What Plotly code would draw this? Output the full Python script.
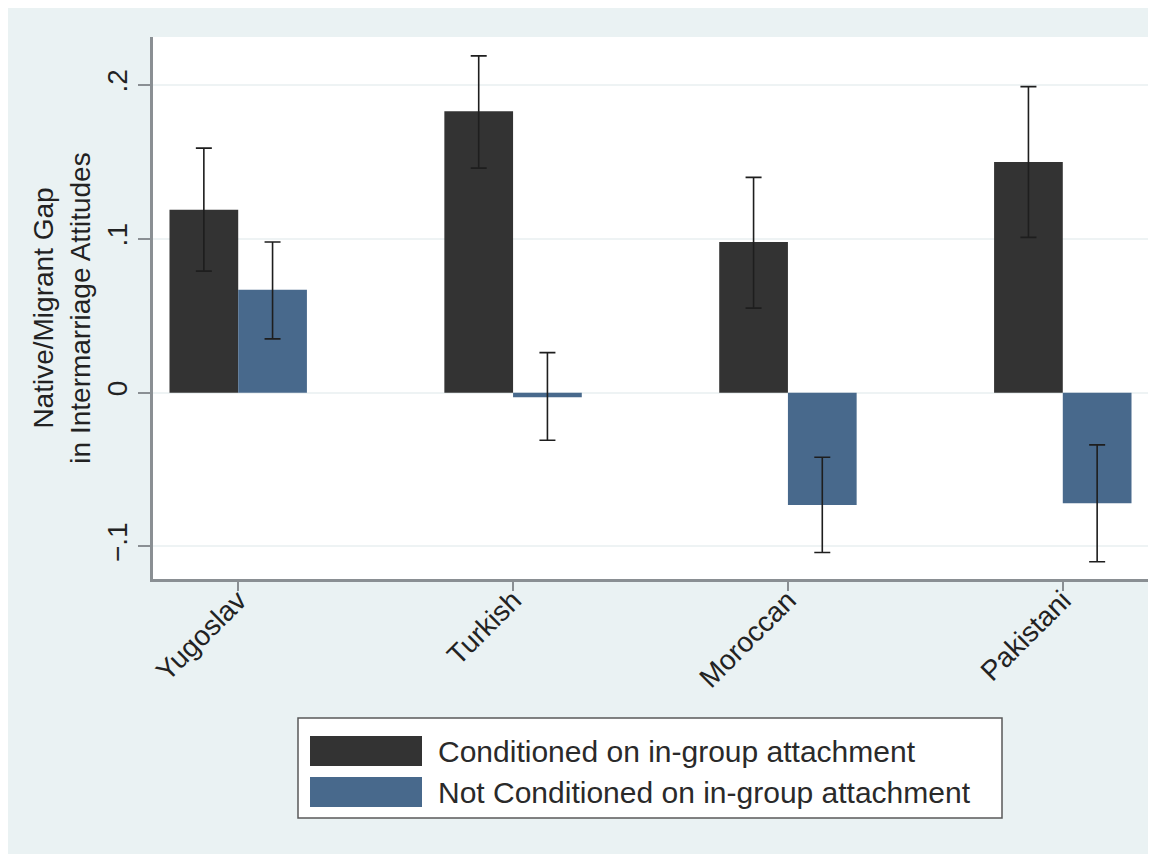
import plotly.graph_objects as go

# ---------------- data ----------------
categories = ["Yugoslav", "Turkish", "Moroccan", "Pakistani"]
series_names = ["Conditioned on in-group attachment",
                "Not Conditioned on in-group attachment"]

cond_value = [0.119, 0.183, 0.098, 0.150]
cond_lower = [0.079, 0.146, 0.055, 0.101]
cond_upper = [0.159, 0.219, 0.140, 0.199]

notcond_value = [0.067, -0.003, -0.073, -0.072]
notcond_lower = [0.035, -0.031, -0.104, -0.110]
notcond_upper = [0.098, 0.026, -0.042, -0.034]

ytick_vals = [-0.1, 0, 0.1, 0.2]
ytick_text = ["\u2212.1", "0", ".1", ".2"]
y_title = "Native/Migrant Gap<br>in Intermarriage Attitudes"

# ---------------- style ----------------
# the page adds an 8px body margin, so figure pixels = screen pixels - 8
W, H = 1148, 846
PL, PR, PT, PB = 145, 1140, 29, 571   # plot area in figure pixels
BG = "#eaf2f3"
DARK = "#333333"
BLUE = "#48698c"
AXIS = "#8a8f93"
FONT = "Liberation Sans, Arial, Helvetica, sans-serif"


def px_x(p):
    return (p - PL) / (PR - PL)


def px_y(p):
    return (PB - p) / (PB - PT)


def err(vals, lo, hi):
    return dict(type="data", symmetric=False,
                array=[h - v for v, h in zip(vals, hi)],
                arrayminus=[v - l for v, l in zip(vals, lo)],
                color="#1e1e1e", thickness=1.6, width=8)


fig = go.Figure()
fig.add_trace(go.Bar(x=categories, y=cond_value, name=series_names[0],
                     marker=dict(color=DARK, line=dict(width=0)),
                     error_y=err(cond_value, cond_lower, cond_upper),
                     showlegend=False))
fig.add_trace(go.Bar(x=categories, y=notcond_value, name=series_names[1],
                     marker=dict(color=BLUE, line=dict(width=0)),
                     error_y=err(notcond_value, notcond_lower, notcond_upper),
                     showlegend=False))

shapes = []
# custom legend (wide Stata-style swatches)
shapes.append(dict(type="rect", xref="paper", yref="paper",
                   x0=px_x(290), x1=px_x(994), y0=px_y(810), y1=px_y(710),
                   fillcolor="white", line=dict(color="#5a5a5a", width=1.5)))
swatch_rows = [(728, 758), (769, 799)]
swatch_cols = [DARK, BLUE]
for (t, b), c in zip(swatch_rows, swatch_cols):
    shapes.append(dict(type="rect", xref="paper", yref="paper",
                       x0=px_x(302), x1=px_x(414), y0=px_y(b), y1=px_y(t),
                       fillcolor=c, line=dict(width=0)))

annotations = []
for (t, b), name in zip(swatch_rows, series_names):
    annotations.append(dict(xref="paper", yref="paper",
                            x=px_x(428), y=px_y((t + b) / 2),
                            text=name, showarrow=False,
                            xanchor="left", yanchor="middle",
                            font=dict(family=FONT, size=30, color="#2a2a2a")))

fig.update_layout(
    width=W, height=H,
    margin=dict(l=PL, r=W - PR, t=PT, b=H - PB, pad=0),
    paper_bgcolor=BG, plot_bgcolor="white",
    barmode="group", bargap=0.5, bargroupgap=0,
    font=dict(family=FONT, size=25, color="#2a2a2a"),
    shapes=shapes, annotations=annotations,
    showlegend=False,
)
fig.update_xaxes(
    range=[-0.31, 3.31],
    showline=True, linecolor=AXIS, linewidth=2.5,
    ticks="outside", ticklen=9, tickcolor=AXIS, tickwidth=1.5,
    tickangle=-45, tickfont=dict(size=28, color="#222222"),
    ticklabelstandoff=-18,
    showgrid=False, zeroline=False,
)
fig.update_yaxes(
    range=[-0.1212, 0.2313],
    tickvals=ytick_vals, ticktext=ytick_text,
    showline=True, linecolor=AXIS, linewidth=2.5,
    ticks="outside", ticklen=12, tickcolor=AXIS, tickwidth=1.5,
    tickangle=-90, tickfont=dict(size=28, color="#222222"),
    showgrid=True, gridcolor="#eef3f4", gridwidth=1.5,
    zeroline=False,
    title=dict(text=y_title, font=dict(size=28, color="#222222"), standoff=4),
)

fig.write_html("out.html")
